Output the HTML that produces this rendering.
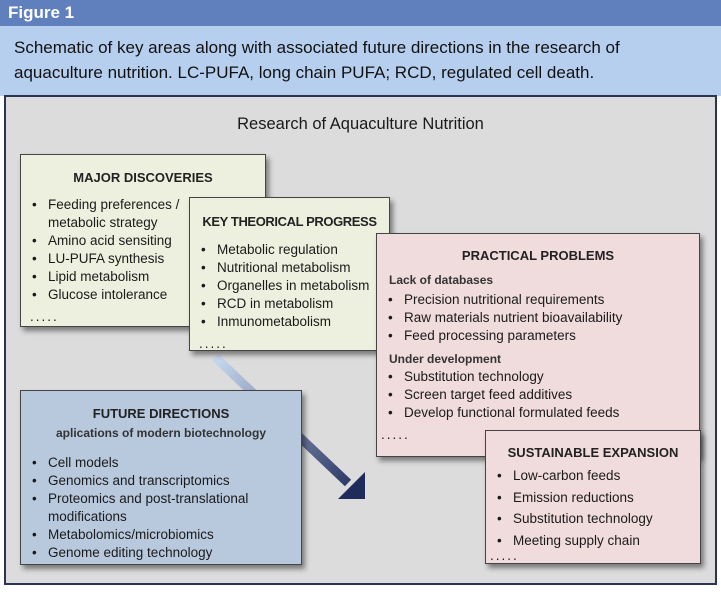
<!DOCTYPE html>
<html><head><style>
*{margin:0;padding:0;box-sizing:border-box}
body{width:721px;height:603px;background:#fff;font-family:"Liberation Sans",sans-serif;position:relative;overflow:hidden;color:#1a1a1a}
.a{position:absolute}
.hdr{left:0;top:0;width:721px;height:26px;background:#5f7fbd;color:#fff;font-weight:bold;font-size:17px;padding:3px 0 0 8px}
.cap{left:0;top:26px;width:721px;height:70px;background:#b7cfee;font-size:17px;line-height:25px;padding:9px 0 0 14px;color:#111}
.panel{left:4px;top:95px;width:713px;height:490px;background:#dcdcdc;border:2px solid #2b3455}
.box{position:absolute;border:1px solid #444;box-shadow:3px 4px 5px rgba(0,0,0,.45);font-size:13.5px;line-height:18px}
.box h3{font-size:13px;font-weight:bold;text-align:center;text-transform:uppercase;color:#222}
ul{list-style:none}
li{position:relative;padding-left:27px}
li:before{content:"•";position:absolute;left:11px}
.dots{padding-left:9px;letter-spacing:2px}
.sub{font-size:12px;padding-left:12px;font-weight:bold;color:#333}
</style></head><body>
<div class="a hdr">Figure 1</div>
<div class="a cap">Schematic of key areas along with associated future directions in the research of<br>aquaculture nutrition. LC-PUFA, long chain PUFA; RCD, regulated cell death.</div>
<div class="a panel"></div>
<div class="a" style="left:0;top:115px;width:721px;text-align:center;font-size:16.5px">Research of Aquaculture Nutrition</div>
<svg class="a" style="left:0;top:0" width="721" height="603">
<defs><linearGradient id="g" x1="215" y1="355" x2="362" y2="497" gradientUnits="userSpaceOnUse"><stop offset="0" stop-color="#c9daf0"/><stop offset="1" stop-color="#1f2b5a"/></linearGradient></defs>
<line x1="215" y1="357" x2="348" y2="483" stroke="url(#g)" stroke-width="9"/>
<polygon points="365,499 338,499 365,472" fill="#1f2b5a"/>
</svg>
<div class="box" style="left:20px;top:154px;width:246px;height:173px;background:#eef0df;padding-top:14px">
<h3>Major discoveries</h3>
<ul style="margin-top:9px"><li>Feeding preferences /<br>metabolic strategy</li><li>Amino acid sensiting</li><li>LU-PUFA synthesis</li><li>Lipid metabolism</li><li>Glucose intolerance</li></ul>
<div class="dots" style="margin-top:4px">.....</div></div>
<div class="box" style="left:189px;top:197px;width:201px;height:154px;background:#eef0df;padding-top:15px">
<h3 style="letter-spacing:-0.4px">Key theorical progress</h3>
<ul style="margin-top:10px"><li>Metabolic regulation</li><li>Nutritional metabolism</li><li>Organelles in metabolism</li><li>RCD in metabolism</li><li>Inmunometabolism</li></ul>
<div class="dots" style="margin-top:4px">.....</div></div>
<div class="box" style="left:376px;top:233px;width:324px;height:224px;background:#f1dcdd;padding-top:13px">
<h3>Practical problems</h3>
<div class="sub" style="margin-top:6px">Lack of databases</div>
<ul style="margin-top:2px"><li>Precision nutritional requirements</li><li>Raw materials nutrient bioavailability</li><li>Feed processing parameters</li></ul>
<div class="sub" style="margin-top:5px">Under development</div>
<ul><li>Substitution technology</li><li>Screen target feed additives</li><li>Develop functional formulated feeds</li></ul>
<div class="dots" style="margin-top:4px;padding-left:4px">.....</div></div>
<div class="box" style="left:485px;top:430px;width:216px;height:134px;background:#f1dcdd;padding-top:13px">
<h3>Sustainable expansion</h3>
<ul style="margin-top:3px;line-height:21.5px"><li>Low-carbon feeds</li><li>Emission reductions</li><li>Substitution technology</li><li>Meeting supply chain</li></ul>
<div class="dots" style="line-height:10px;padding-left:4px">.....</div></div>
<div class="box" style="left:20px;top:390px;width:282px;height:175px;background:#b8c9de;padding-top:14px">
<h3>Future directions</h3>
<div style="text-align:center;font-size:12px;margin-top:1px;font-weight:bold;color:#333">aplications of modern biotechnology</div>
<ul style="margin-top:12px"><li>Cell models</li><li>Genomics and transcriptomics</li><li>Proteomics and post-translational<br>modifications</li><li>Metabolomics/microbiomics</li><li>Genome editing technology</li></ul></div>
</body></html>
